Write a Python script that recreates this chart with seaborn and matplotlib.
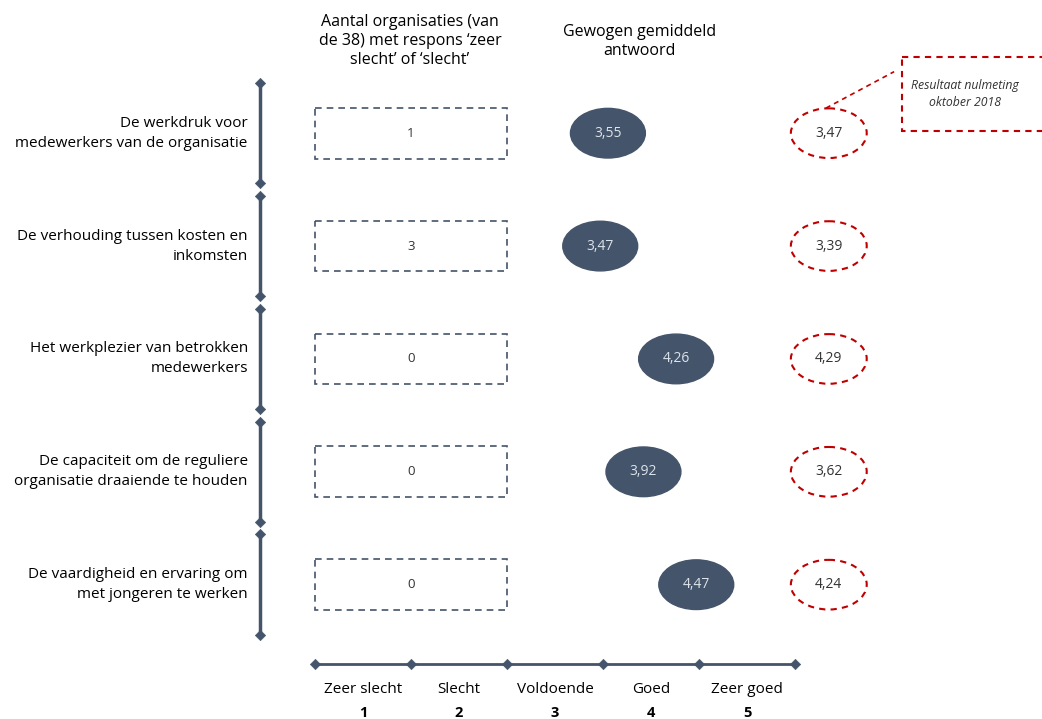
import matplotlib

matplotlib.use("Agg")
import matplotlib.pyplot as plt  # noqa: E402
import pandas as pd  # noqa: E402
import seaborn as sns  # noqa: E402
from matplotlib.patches import Ellipse, Rectangle  # noqa: E402

statements = [
    "De werkdruk voor\nmedewerkers van de organisatie",
    "De verhouding tussen kosten en\ninkomsten",
    "Het werkplezier van betrokken\nmedewerkers",
    "De capaciteit om de reguliere\norganisatie draaiende te houden",
    "De vaardigheid en ervaring om\nmet jongeren te werken",
]
n_bad = [1, 3, 0, 0, 0]
weighted_mean = [3.55, 3.47, 4.26, 3.92, 4.47]
baseline_2018 = [3.47, 3.39, 4.29, 3.62, 4.24]
scale_labels = ["Zeer slecht", "Slecht", "Voldoende", "Goed", "Zeer goed"]
scale_values = [1, 2, 3, 4, 5]

DARK = "#44546A"
RED = "#C00000"
TXT = "#000000"

sns.set_theme(style="white")
plt.rcParams["font.family"] = ["Open Sans", "DejaVu Sans"]


def fmt(v):
    return f"{v:.2f}".replace(".", ",")


df = pd.DataFrame(
    {
        "row": range(len(statements)),
        "statement": statements,
        "n_bad": n_bad,
        "mean": weighted_mean,
        "base": baseline_2018,
    }
)

fig = plt.figure(figsize=(10.42, 7.19), dpi=100)
ax = fig.add_axes([0, 0, 1, 1])
ax.set_xlim(-2.78, 8.07)
ax.set_ylim(5.19, -1.18)
ax.axis("off")

# headers
ax.text(1.49, -0.82, "Aantal organisaties (van\nde 38) met respons ‘zeer\nslecht’ of ‘slecht’",
        ha="center", va="center", fontsize=11.5, color=TXT, linespacing=1.25)
ax.text(3.875, -0.815, "Gewogen gemiddeld\nantwoord", ha="center", va="center",
        fontsize=11.5, color=TXT, linespacing=1.25)

# row separators (vertical segments with diamond ends)
seg_x = -0.07
for r in df["row"]:
    ax.plot([seg_x, seg_x], [r - 0.445, r + 0.445], color=DARK, lw=2.5, zorder=1)
ends = pd.DataFrame({"x": [seg_x] * (2 * len(df)),
                     "y": [r + d for r in df["row"] for d in (-0.445, 0.445)]})
sns.scatterplot(data=ends, x="x", y="y", marker="D", s=28, color=DARK,
                edgecolor=DARK, ax=ax, zorder=2, legend=False)

for _, row in df.iterrows():
    r = row["row"]
    ax.text(-0.2, r, row["statement"], ha="right", va="center", fontsize=11,
            color=TXT, linespacing=1.45)
    # count box
    ax.add_patch(Rectangle((0.5, r - 0.225), 2.0, 0.45, fill=False, edgecolor=DARK,
                           lw=1.2, linestyle=(0, (4, 3))))
    ax.text(1.5, r, str(row["n_bad"]), ha="center", va="center", fontsize=9.5,
            color="#333333")
    # weighted mean ellipse
    ax.add_patch(Ellipse((row["mean"], r), 0.78, 0.44, facecolor=DARK,
                         edgecolor=DARK, zorder=3))
    ax.text(row["mean"], r, fmt(row["mean"]), ha="center", va="center",
            fontsize=10, color="#dde3ea", zorder=4)
    # baseline 2018
    ax.add_patch(Ellipse((5.85, r), 0.79, 0.44, fill=False, edgecolor=RED,
                         lw=1.5, linestyle=(0, (3, 2.5)), zorder=3))
    ax.text(5.85, r, fmt(row["base"]), ha="center", va="center", fontsize=10,
            color="#333333", zorder=4)

# callout
ax.add_patch(Rectangle((6.615, -0.674), 1.5, 0.656, fill=False, edgecolor=RED,
                       lw=1.5, linestyle=(0, (3, 2.5)), clip_on=False))
ax.plot([5.82, 6.53], [-0.222, -0.545], color=RED, lw=1.2, linestyle=(0, (3, 2.5)))
ax.text(7.27, -0.346, "Resultaat nulmeting\noktober 2018", ha="center", va="center",
        fontsize=8.8, style="italic", color="#333333", linespacing=1.45)

# bottom scale axis
edges = [v - 0.5 for v in scale_values] + [scale_values[-1] + 0.5]
axis_y = 4.70
ax.plot([edges[0], edges[-1]], [axis_y, axis_y], color=DARK, lw=2, zorder=1)
ticks = pd.DataFrame({"x": edges, "y": [axis_y] * len(edges)})
sns.scatterplot(data=ticks, x="x", y="y", marker="D", s=28, color=DARK,
                edgecolor=DARK, ax=ax, zorder=2, legend=False)
for lab, v in zip(scale_labels, scale_values):
    ax.text(v, 4.93, lab, ha="center", va="center", fontsize=11, color=TXT)
    ax.text(v, 5.135, str(v), ha="center", va="center", fontsize=10.5,
            fontweight="bold", color=TXT)

fig.savefig("out.png", dpi=100)
